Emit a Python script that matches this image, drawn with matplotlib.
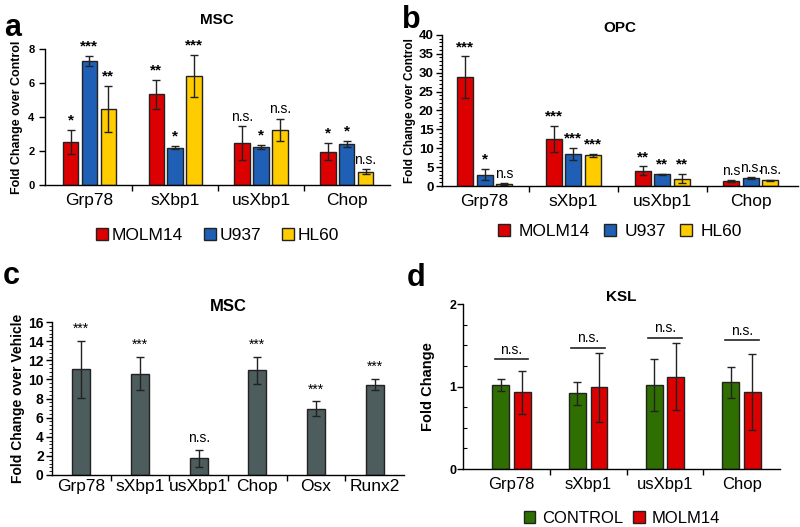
import numpy as np
import matplotlib
matplotlib.use("Agg")
import matplotlib.pyplot as plt
from matplotlib.ticker import MultipleLocator
from matplotlib.patches import Patch

plt.rcParams['font.family'] = ['Liberation Sans', 'DejaVu Sans']

# panel a / b: cell lines, genes
genes = ["Grp78", "sXbp1", "usXbp1", "Chop"]
lines = ["MOLM14", "U937", "HL60"]
line_colors = ["#dd0000", "#1f5fb5", "#ffcc00"]

a_vals = [[2.55, 5.33, 2.45, 1.96],
          [7.30, 2.20, 2.25, 2.41],
          [4.47, 6.41, 3.24, 0.78]]
a_errs = [[0.70, 0.85, 1.00, 0.50],
          [0.28, 0.10, 0.12, 0.17],
          [1.37, 1.22, 0.65, 0.15]]
a_sig = [["*", "**", "n.s.", "*"],
         ["***", "*", "*", "*"],
         ["**", "***", "n.s.", "n.s."]]

b_vals = [[28.8, 12.4, 4.0, 1.3],
          [3.0, 8.4, 3.1, 2.1],
          [0.6, 8.1, 1.95, 1.5]]
b_errs = [[5.5, 3.5, 1.2, 0.2],
          [1.5, 1.6, 0.2, 0.3],
          [0.2, 0.5, 1.2, 0.2]]
b_sig = [["***", "***", "**", "n.s"],
         ["*", "***", "**", "n.s."],
         ["n.s", "***", "**", "n.s."]]

# panel c
c_genes = ["Grp78", "sXbp1", "usXbp1", "Chop", "Osx", "Runx2"]
c_vals = [11.06, 10.6, 1.74, 10.96, 6.96, 9.46]
c_errs = [3.0, 1.75, 0.87, 1.4, 0.75, 0.6]
c_sig = ["***", "***", "n.s.", "***", "***", "***"]

# panel d
d_groups = ["CONTROL", "MOLM14"]
d_colors = ["#2f6e00", "#dd0000"]
d_vals = [[1.02, 0.92, 1.02, 1.05],
          [0.93, 0.99, 1.12, 0.93]]
d_errs = [[0.07, 0.14, 0.32, 0.19],
          [0.26, 0.42, 0.41, 0.46]]
d_bracket = [1.33, 1.47, 1.59, 1.56]

fig = plt.figure(figsize=(8, 5.27), dpi=100)


def style_axes(ax):
    for s in ["top", "right"]:
        ax.spines[s].set_visible(False)
    ax.spines["left"].set_linewidth(1.0)
    ax.spines["bottom"].set_linewidth(1.0)


def group_ticks(ax, n, labels, fs, pad=6):
    # separator ticks between groups, labels centred on the groups
    ax.set_xticks(np.arange(n - 1) + 0.5)
    ax.set_xticklabels([])
    ax.tick_params(axis="x", length=4, width=1, direction="out")
    ax.set_xticks(np.arange(n), minor=True)
    ax.set_xticklabels(labels, minor=True, fontsize=fs)
    ax.tick_params(axis="x", which="minor", length=0, pad=pad)


def three_bars(ax, vals, errs, sig, ymax, sig_pad):
    x = np.arange(len(genes))
    w, off = 0.18, 0.22
    for i in range(3):
        xs = x + (i - 1) * off
        ax.bar(xs, vals[i], w, yerr=errs[i], color=line_colors[i],
               edgecolor="#222222", linewidth=1.0,
               error_kw=dict(ecolor="#222222", elinewidth=1.0, capsize=3, capthick=1.0))
        for j in range(len(genes)):
            top = vals[i][j] + errs[i][j] + sig_pad
            s = sig[i][j]
            bold = s.startswith("*")
            ax.text(xs[j], top, s, ha="center", va="bottom",
                    fontsize=11 if bold else 10, fontweight="bold" if bold else "normal")
    ax.set_ylim(0, ymax)


def bold_yticks(ax):
    for t in ax.get_yticklabels():
        t.set_fontweight("bold")


# ---- a
ax = fig.add_axes([0.056, 0.649, 0.431, 0.258])
style_axes(ax)
three_bars(ax, a_vals, a_errs, a_sig, 8, 0.15)
ax.set_xlim(-0.52, 3.5)
ax.set_yticks([0, 2, 4, 6, 8])
ax.tick_params(axis="y", labelsize=8, length=4, width=1)
bold_yticks(ax)
ax.set_ylabel("Fold Change over Control", fontsize=9, fontweight="bold", labelpad=4)
group_ticks(ax, 4, genes, 12.5)
ax.set_title("MSC", fontsize=11, fontweight="bold", pad=18)
ax.legend(handles=[Patch(facecolor=c, edgecolor="#222222", label=l) for c, l in zip(line_colors, lines)],
          loc="upper center", bbox_to_anchor=(0.5, -0.2), ncol=3, frameon=False,
          fontsize=12.5, handlelength=0.7, handleheight=0.7, handletextpad=0.2, columnspacing=1.2)
fig.text(0.005, 0.975, "a", fontsize=22, fontweight="bold", va="top")

# ---- b
ax = fig.add_axes([0.5525, 0.647, 0.445, 0.287])
style_axes(ax)
three_bars(ax, b_vals, b_errs, b_sig, 40, 0.6)
ax.set_xlim(-0.48, 3.53)
ax.set_yticks(np.arange(0, 41, 5))
ax.yaxis.set_minor_locator(MultipleLocator(1))
ax.tick_params(axis="y", labelsize=9.5, length=4, width=1, pad=2)
ax.tick_params(axis="y", which="minor", length=2, width=0.8)
bold_yticks(ax)
ax.set_ylabel("Fold Change over Control", fontsize=8.5, fontweight="bold", labelpad=2)
group_ticks(ax, 4, genes, 12.5)
ax.set_title("OPC", fontsize=11, fontweight="bold", pad=-6)
ax.legend(handles=[Patch(facecolor=c, edgecolor="#222222", label=l) for c, l in zip(line_colors, lines)],
          loc="upper center", bbox_to_anchor=(0.5, -0.15), ncol=3, frameon=False,
          fontsize=12.5, handlelength=0.7, handleheight=0.7, handletextpad=0.5, columnspacing=0.8)
fig.text(0.503, 0.99, "b", fontsize=22, fontweight="bold", va="top")

# ---- c
ax = fig.add_axes([0.065, 0.0987, 0.44, 0.29])
style_axes(ax)
xc = np.arange(len(c_genes))
ax.bar(xc, c_vals, 0.31, yerr=c_errs, color="#4d5c5c", edgecolor="#222222", linewidth=1.0,
       error_kw=dict(ecolor="#222222", elinewidth=1.0, capsize=3, capthick=1.0))
for j in range(len(c_genes)):
    ax.text(xc[j], c_vals[j] + c_errs[j] + 0.5, c_sig[j], ha="center", va="bottom", fontsize=10)
ax.set_xlim(-0.5, 5.5)
ax.set_ylim(0, 16)
ax.set_yticks(np.arange(0, 17, 2))
ax.yaxis.set_minor_locator(MultipleLocator(0.4))
ax.tick_params(axis="y", labelsize=10, length=4, width=1, pad=2)
ax.tick_params(axis="y", which="minor", length=2, width=0.6)
bold_yticks(ax)
ax.set_ylabel("Fold Change over Vehicle", fontsize=10, fontweight="bold", labelpad=2)
group_ticks(ax, 6, c_genes, 12.5, pad=3)
ax.set_title("MSC", fontsize=12, fontweight="bold", pad=8)
fig.text(0.003, 0.505, "c", fontsize=22, fontweight="bold", va="top")

# ---- d
ax = fig.add_axes([0.579, 0.11, 0.396, 0.313])
style_axes(ax)
xd = np.arange(len(genes))
for i in range(2):
    ax.bar(xd + (i - 0.5) * 0.28, d_vals[i], 0.22, yerr=d_errs[i], color=d_colors[i],
           edgecolor="#222222", linewidth=1.0,
           error_kw=dict(ecolor="#222222", elinewidth=1.0, capsize=3, capthick=1.0))
for j in range(len(genes)):
    ax.plot([xd[j] - 0.22, xd[j] + 0.22], [d_bracket[j]] * 2, color="#222222", lw=1.2)
    ax.text(xd[j], d_bracket[j] + 0.03, "n.s.", ha="center", va="bottom", fontsize=10)
ax.set_xlim(-0.63, 3.5)
ax.set_ylim(0, 2)
ax.set_yticks([0, 1, 2])
ax.yaxis.set_minor_locator(MultipleLocator(0.25))
ax.tick_params(axis="y", labelsize=9, length=4, width=1, pad=1)
ax.tick_params(axis="y", which="minor", direction="in", length=3, width=0.8)
bold_yticks(ax)
ax.set_ylabel("Fold Change", fontsize=10.5, fontweight="bold", labelpad=10)
group_ticks(ax, 4, genes, 12)
ax.set_title("KSL", fontsize=11, fontweight="bold", pad=-6)
ax.legend(handles=[Patch(facecolor=c, edgecolor="#222222", label=l) for c, l in zip(d_colors, d_groups)],
          loc="center", bbox_to_anchor=(0.5, -0.3), ncol=2, frameon=False,
          fontsize=12, handlelength=0.7, handleheight=0.7, handletextpad=0.4, columnspacing=0.6)
fig.text(0.508, 0.5, "d", fontsize=22, fontweight="bold", va="top")

fig.savefig("out.png", dpi=100)
